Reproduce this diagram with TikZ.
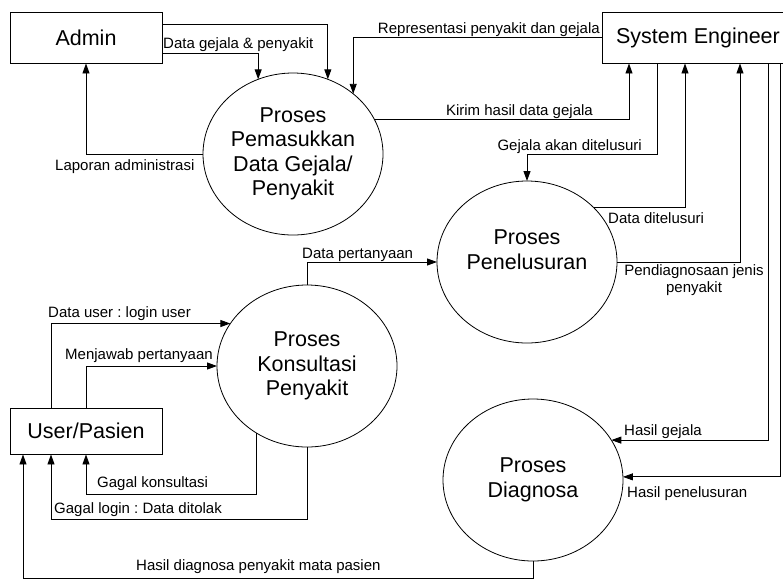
\documentclass[tikz,border=0pt]{standalone}
\usepackage{fontspec}
\setmainfont{Liberation Sans}
\usepackage{tikz}
\usetikzlibrary{arrows.meta}
\usetikzlibrary{shapes.geometric}
\frenchspacing
\tikzstyle{entity}=[draw, line width=0.9pt, minimum width=152pt, minimum height=51pt, font=\fontsize{21.5}{24.5}\selectfont]
\tikzstyle{process}=[ellipse, draw, line width=0.8pt, minimum width=180pt, minimum height=162pt, inner sep=0pt, outer sep=0pt, align=center, font=\fontsize{21.5}{24.5}\selectfont]
\tikzstyle{flow}=[line width=0.9pt, -{Triangle[length=10pt,width=7pt]}]
\tikzstyle{lbl}=[inner sep=0pt, font=\fontsize{15}{17}\selectfont]

\begin{document}
\begin{tikzpicture}[x=1pt, y=-1pt]
      \useasboundingbox (0,0) rectangle (783,579);

      \node [entity] (admin) at (86,37.5) {Admin};
      \node [entity, minimum width=192pt] (se) at (698,37.5) {System Engineer};
      \node [entity, minimum height=46pt] (user) at (86,431) {User/Pasien};

      \node [process] (pemasukkan) at (293,154) {Proses\\Pemasukkan\\Data Gejala/\\Penyakit};
      \node [process] (penelusuran) at (527,262) {Proses\\Penelusuran\\\mbox{}};
      \node [process] (konsultasi) at (307,366) {Proses\\Konsultasi\\Penyakit};
      \node [process] (diagnosa) at (533,480) {Proses\\Diagnosa};

      \draw [flow] (admin.east |- 0,53) -| (pemasukkan.115);
      \draw [flow] (admin.east |- 0,24) -| (pemasukkan.65);
      \draw [flow] (se.west) -| (pemasukkan.45);
      \draw [flow] (pemasukkan.23) -| (se.south -| 629,0);
      \draw [flow] (pemasukkan.west) -| (admin.south);

      \draw [flow] (se.south -| 657,0) |- (penelusuran.north |- 0,154) -- (penelusuran.north);
      \draw [flow] (penelusuran.39) -| (se.south -| 685,0);
      \draw [flow] (penelusuran.east) -| (se.south -| 740,0);
      \draw [flow] (se.south -| 768,0) |- (diagnosa.27);
      \draw [flow] (se.south -| 780,0) |- (diagnosa.2);

      \draw [flow] (konsultasi.north) |- (penelusuran.west);
      \draw [flow] (user.north -| 51,0) |- (konsultasi.151);
      \draw [flow] (user.north) |- (konsultasi.west);
      \draw [flow] (konsultasi.233) |- (user.south |- 0,494) -- (user.south);
      \draw [flow] (konsultasi.south) |- (51,519) -- (user.south -| 51,0);
      \draw [flow] (diagnosa.south) |- (23,578) -- (user.south -| 23,0);

      \node [lbl, anchor=base west] (lGejalaPenyakit) at (163,48) {Data gejala \& penyakit};
      \node [lbl, anchor=base east] (lRepresentasi) at (600,33.5) {Representasi penyakit dan gejala};
      \node [lbl, anchor=base east] (lKirim) at (593,115) {Kirim hasil data gejala};
      \node [lbl, anchor=base west] (lLaporan) at (55,170) {Laporan administrasi};
      \node [lbl, anchor=base east] (lAkan) at (642,150) {Gejala akan ditelusuri};
      \node [lbl, anchor=base west] (lDitelusuri) at (608,223) {Data ditelusuri};
      \node [lbl, anchor=north, align=center] (lJenis) at (694,264) {Pendiagnosaan jenis\\penyakit};
      \node [lbl, anchor=base west] (lHasilGejala) at (624,435) {Hasil gejala};
      \node [lbl, anchor=base west] (lHasilPenelusuran) at (627,497) {Hasil penelusuran};
      \node [lbl, anchor=base west] (lPertanyaan) at (302,258) {Data pertanyaan};
      \node [lbl, anchor=base west] (lLogin) at (48,317) {Data user : login user};
      \node [lbl, anchor=base west] (lMenjawab) at (65,359) {Menjawab pertanyaan};
      \node [lbl, anchor=base west] (lGagalKonsultasi) at (97,487) {Gagal konsultasi};
      \node [lbl, anchor=base west] (lGagalLogin) at (54,513) {Gagal login : Data ditolak};
      \node [lbl, anchor=base west] (lHasilDiagnosa) at (136,570) {Hasil diagnosa penyakit mata pasien};
    \end{tikzpicture}
\end{document}
